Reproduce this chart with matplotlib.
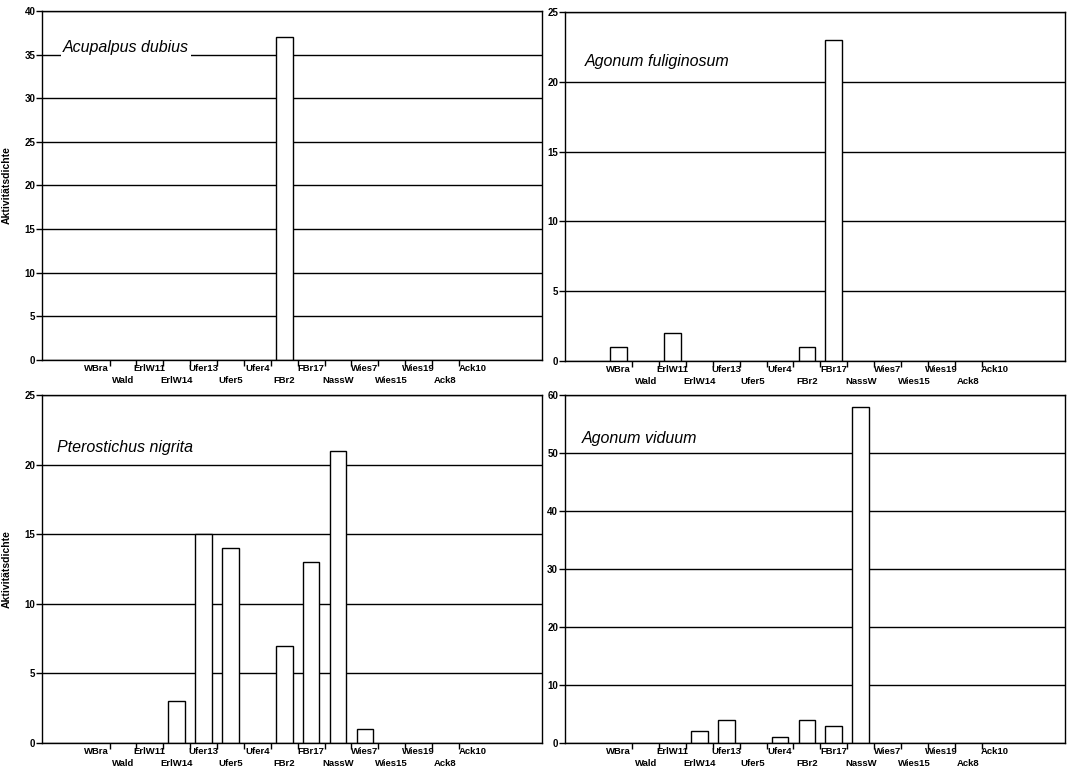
import numpy as np
import matplotlib
matplotlib.use("Agg")
import matplotlib.pyplot as plt
from matplotlib.ticker import FixedLocator

plt.rcParams['font.family'] = ['Liberation Sans', 'DejaVu Sans']

sites = ["WBra", "Wald", "ErlW11", "ErlW14", "Ufer13", "Ufer5", "Ufer4", "FBr2",
         "FBr17", "NassW", "Wies7", "Wies15", "Wies19", "Ack8", "Ack10"]

acupalpus_dubius = [0, 0, 0, 0, 0, 0, 0, 37, 0, 0, 0, 0, 0, 0, 0]
agonum_fuliginosum = [1, 0, 2, 0, 0, 0, 0, 1, 23, 0, 0, 0, 0, 0, 0]
pterostichus_nigrita = [0, 0, 0, 3, 15, 14, 0, 7, 13, 21, 1, 0, 0, 0, 0]
agonum_viduum = [0, 0, 0, 2, 4, 0, 1, 4, 3, 58, 0, 0, 0, 0, 0]

panels = [
    ("Acupalpus dubius", acupalpus_dubius, 40, 5, (0.041, 0.894)),
    ("Agonum fuliginosum", agonum_fuliginosum, 25, 5, (0.040, 0.857)),
    ("Pterostichus nigrita", pterostichus_nigrita, 25, 5, (0.030, 0.850)),
    ("Agonum viduum", agonum_viduum, 60, 10, (0.034, 0.876)),
]

fig = plt.figure(figsize=(10.72, 7.74), dpi=100)
rects = [
    [42.3 / 1072, 1 - 360 / 774, 500 / 1072, 349 / 774],
    [565 / 1072, 1 - 361 / 774, 500 / 1072, 349 / 774],
    [42.3 / 1072, 1 - 743 / 774, 500 / 1072, 348 / 774],
    [565 / 1072, 1 - 743 / 774, 500 / 1072, 348 / 774],
]

x = np.arange(len(sites))

for k, (name, vals, ymax, ystep, tpos) in enumerate(panels):
    ax = fig.add_axes(rects[k])
    ax.set_axisbelow(True)
    ax.yaxis.grid(True, color="black", linewidth=1.0)
    vals = np.array(vals)
    nz = vals > 0
    ax.bar(x[nz], vals[nz], width=0.62, color="white", edgecolor="black",
           linewidth=1.0, zorder=2)
    ax.set_xlim(-2, 16.6)
    ax.set_ylim(0, ymax)
    ax.set_yticks(np.arange(0, ymax + 1, ystep))
    ax.set_xticks([])
    ax.xaxis.set_minor_locator(FixedLocator(x[:-1] + 0.5))
    ax.tick_params(axis="x", which="minor", length=4, width=1, direction="out")
    ax.tick_params(axis="y", length=4, width=1, direction="out", pad=1,
                   labelsize=7)
    for lab in ax.get_yticklabels():
        lab.set_fontweight("bold")
    for sp in ax.spines.values():
        sp.set_linewidth(1.0)

    # staggered site labels, two rows
    for i, s in enumerate(sites):
        dy = -3 if i % 2 == 0 else -11.5
        ax.annotate(s, xy=(x[i], 0), xycoords=("data", "axes fraction"),
                    xytext=(0, dy), textcoords="offset points",
                    ha="center", va="top", fontsize=6.8, fontweight="bold")

    ax.text(tpos[0], tpos[1], name, transform=ax.transAxes, fontsize=11.5,
            style="italic", va="center", ha="left",
            bbox=dict(facecolor="white", edgecolor="none", pad=1.5), zorder=3)
    if k % 2 == 0:
        ax.set_ylabel("Aktivitätsdichte", fontsize=7.5, fontweight="bold")
        ax.yaxis.set_label_coords(-0.062, 0.5)

fig.savefig("out.png", dpi=100)
